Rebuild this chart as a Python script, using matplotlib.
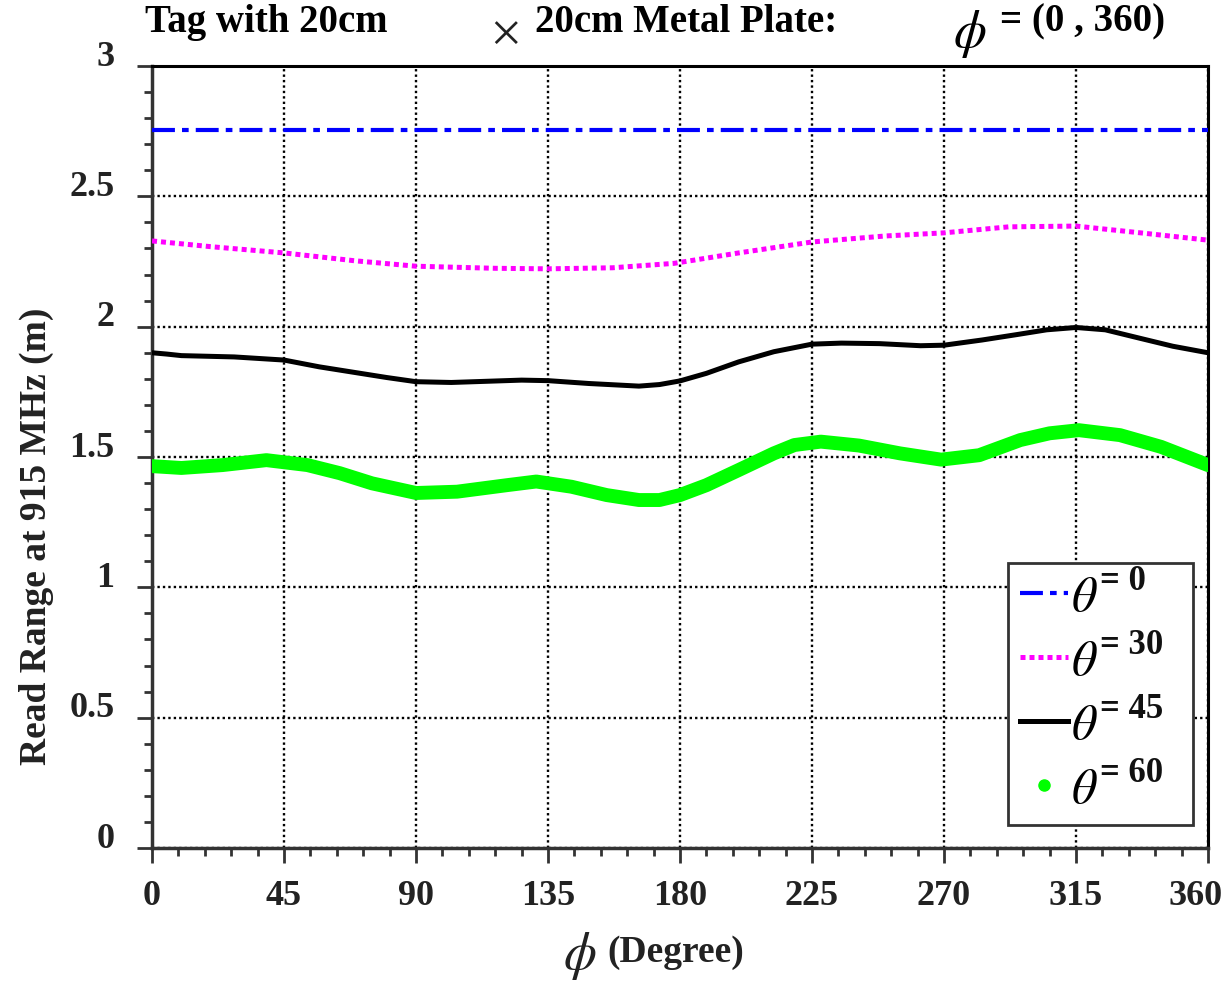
import matplotlib
matplotlib.use("Agg")
import matplotlib.pyplot as plt
import matplotlib.transforms as mtransforms
from matplotlib.lines import Line2D
from matplotlib.ticker import MultipleLocator

# values
phi_t0 = [0, 360]
t0 = [2.754, 2.754]

phi_t30 = [0, 20, 45, 69, 90, 117, 135, 157, 178, 200, 225, 250, 270, 292, 315, 337, 360]
t30 = [2.329, 2.307, 2.283, 2.253, 2.232, 2.224, 2.222, 2.226, 2.243, 2.283, 2.325,
       2.348, 2.360, 2.383, 2.386, 2.360, 2.332]

phi_t45 = [0, 5, 10, 28, 45, 57, 80, 90, 102, 126, 135, 149, 166, 173, 180, 189, 200,
           212, 225, 235, 248, 262, 270, 283, 295, 305, 315, 325, 337, 348, 360]
t45 = [1.900, 1.895, 1.889, 1.884, 1.872, 1.846, 1.805, 1.789, 1.786, 1.795, 1.793,
       1.782, 1.772, 1.778, 1.792, 1.821, 1.865, 1.904, 1.933, 1.937, 1.935, 1.927,
       1.929, 1.949, 1.970, 1.988, 1.997, 1.988, 1.955, 1.925, 1.900]

phi_t60 = [0, 10, 24, 39, 53, 64, 75, 90, 104, 121, 131, 143, 155, 166, 173, 180, 189,
           200, 212, 219, 228, 241, 255, 269, 282, 296, 306, 316, 330, 344, 360]
t60 = [1.465, 1.458, 1.469, 1.488, 1.469, 1.438, 1.399, 1.362, 1.367, 1.392, 1.406,
       1.386, 1.354, 1.335, 1.335, 1.354, 1.392, 1.450, 1.514, 1.546, 1.559, 1.544,
       1.514, 1.490, 1.507, 1.565, 1.591, 1.603, 1.584, 1.539, 1.469]

x_ticks = [0, 45, 90, 135, 180, 225, 270, 315, 360]
y_ticks = [0, 0.5, 1, 1.5, 2, 2.5, 3]
y_labels = ['0', '0.5', '1', '1.5', '2', '2.5', '3']
theta_vals = ['0', '30', '45', '60']

plt.rcParams['font.family'] = ['Liberation Serif', 'DejaVu Serif']

GREEK = {'family': 'STIXGeneral', 'style': 'italic', 'weight': 'normal'}

fig = plt.figure(figsize=(12.3, 9.84), dpi=100)
ax = fig.add_axes([0.1236, 0.1382, 0.8585, 0.7947])

ax.plot(phi_t0, t0, color='#0000ff', lw=3, dashes=(5.5, 1.7, 1.6, 1.7), zorder=3)
ax.plot(phi_t30, t30, color='#ff00ff', lw=3.6, dashes=(1, 0.8), zorder=3)
ax.plot(phi_t45, t45, color='black', lw=3.6, solid_joinstyle='round', zorder=3)
ax.plot(phi_t60, t60, color='#00ff00', lw=10, solid_capstyle='round',
        solid_joinstyle='round', zorder=3)

ax.set_xlim(0, 360)
ax.set_ylim(0, 3)
ax.set_xticks(x_ticks)
ax.set_xticklabels([str(v) for v in x_ticks], fontweight='bold')
ax.set_yticks(y_ticks)
ax.set_yticklabels(y_labels, fontweight='bold')
ax.xaxis.set_minor_locator(MultipleLocator(9))
ax.yaxis.set_minor_locator(MultipleLocator(0.1))

ax.grid(True, which='major', color='black', linestyle=(0, (1, 1.3)), lw=1.7, zorder=1)
ax.tick_params(which='major', direction='out', length=11, width=2, color='#333333',
               labelsize=26, labelcolor='#222222', top=False, right=False)
ax.tick_params(which='minor', direction='out', length=6, width=2, color='#333333',
               top=False, right=False)
ax.tick_params(axis='y', pad=16)
ax.tick_params(axis='x', pad=12)

# lift y tick labels a bit as in the original
shift = mtransforms.ScaledTranslation(0, 13 / 100, fig.dpi_scale_trans)
for lab in ax.get_yticklabels():
    lab.set_transform(lab.get_transform() + shift)
# last x label sits a little left of its tick
last = ax.get_xticklabels()[-1]
last.set_transform(last.get_transform() +
                   mtransforms.ScaledTranslation(-12 / 100, 0, fig.dpi_scale_trans))

for side in ['left', 'bottom']:
    ax.spines[side].set_linewidth(2.5)
    ax.spines[side].set_color('#333333')
for side in ['top', 'right']:
    ax.spines[side].set_linewidth(2.2)
    ax.spines[side].set_color('black')

ax.set_ylabel('Read Range at 915 MHz (m)', fontsize=27, fontweight='bold',
              color='#222222')
ax.yaxis.set_label_coords(-0.093, 0.398)

# x label: big phi followed by raised text
fig.text(0.4715, 0.004, '\u03d5', fontsize=38, color='#222222', ha='center',
         va='bottom', **GREEK)
fig.text(0.4935, 0.0325, '(Degree)', fontsize=27, fontweight='bold', color='#222222',
         ha='left', va='center')

# title pieces
fig.text(0.118, 0.9776, 'Tag with 20cm', fontsize=28, fontweight='bold', ha='left',
         va='center')
fig.text(0.4106, 0.966, '\u00d7', fontsize=30, color='#222222', ha='center',
         va='center', family='STIXGeneral')
fig.text(0.435, 0.9776, '20cm Metal Plate:', fontsize=28, fontweight='bold', ha='left',
         va='center')
fig.text(0.7886, 0.966, '\u03d5', fontsize=38, ha='center', va='center', **GREEK)
fig.text(0.813, 0.9776, '= (0 , 360)', fontsize=28, fontweight='bold', ha='left',
         va='center')

handles = [
    Line2D([], [], color='#0000ff', lw=3, dashes=(5.5, 1.7, 1.6, 1.7)),
    Line2D([], [], color='#ff00ff', lw=3.6, dashes=(1, 0.8)),
    Line2D([], [], color='black', lw=3.6),
    Line2D([], [], color='#00ff00', marker='o', markersize=8, linestyle='None'),
]
leg = ax.legend(handles, ['\u03b8'] * 4, loc='lower left',
                bbox_to_anchor=(0.8106, 0.0294, 0.1752, 0.3386), mode='expand',
                prop={'size': 36, **GREEK}, frameon=True, fancybox=False,
                handlelength=0.95, handletextpad=0.08, labelspacing=0.38,
                borderpad=0.25, borderaxespad=0)
leg.get_frame().set_edgecolor('#333333')
leg.get_frame().set_linewidth(2)
leg.get_frame().set_alpha(1)

# raised "= value" next to each theta
for txt, val in zip(leg.get_texts(), theta_vals):
    ax.annotate('= ' + val, xy=(1, 0.5), xycoords=txt, xytext=(3, 0),
                textcoords='offset points', fontsize=25, fontweight='bold',
                color='#111111', ha='left', va='bottom', zorder=7)

fig.savefig('out.png', dpi=100)
